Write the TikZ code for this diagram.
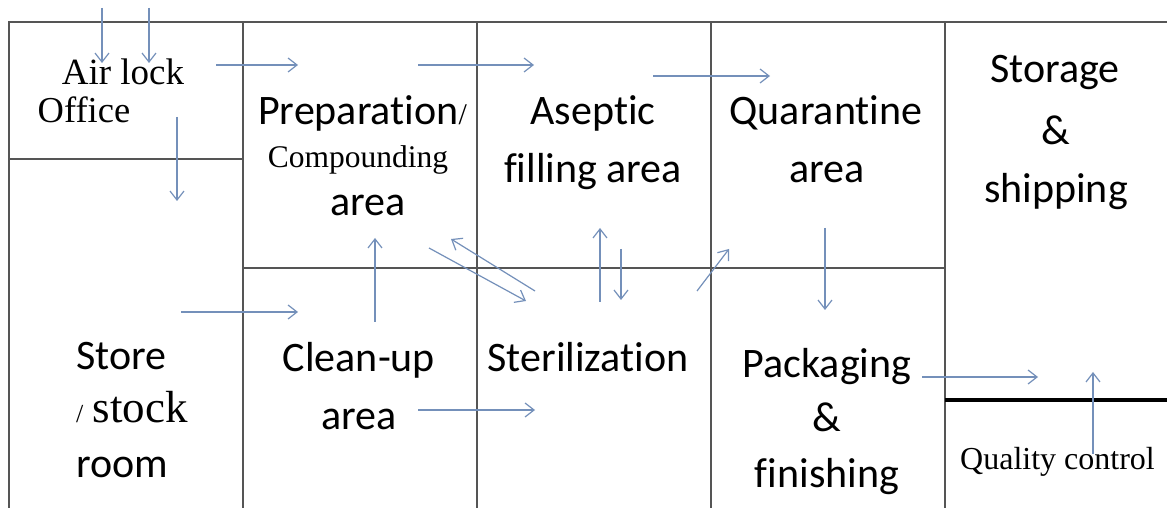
\documentclass[tikz,border=0pt]{standalone}
\usepackage{fontspec}
\setmainfont{Carlito}[Ligatures={NoCommon}]
\newfontfamily\tnr{Liberation Serif}
\usetikzlibrary{arrows.meta}
\definecolor{flow}{HTML}{7490BA}
\definecolor{wall}{HTML}{555555}
\begin{document}
\begin{tikzpicture}[x=1pt,y=1pt,
  wallline/.style={draw=wall,line width=1.8pt},
  thickwall/.style={draw=black,line width=3.4pt},
  flowarrow/.style={draw=flow,line width=1.2pt,-{Straight Barb[length=9pt,width=14pt]}},
  lbl/.style={inner sep=0pt,anchor=base,font=\fontsize{42}{50}\selectfont},
  serif/.style={inner sep=0pt,anchor=base,font=\tnr\fontsize{37}{44}\selectfont}]
\useasboundingbox (0,0) rectangle (1167,508);
\fill[white] (0,0) rectangle (1167,508);
% walls
\draw[wallline] (9,0) -- (9,486) -- (1167,486);
\draw[wallline] (243,0) -- (243,486);
\draw[wallline] (477,0) -- (477,486);
\draw[wallline] (711,0) -- (711,486);
\draw[wallline] (945,0) -- (945,486);
\draw[wallline] (9,349) -- (243,349);
\draw[wallline] (243,240) -- (945,240);
\draw[thickwall] (945,108) -- (1167,108);
% labels
\node[serif] (airlock) at (123,423) {Air lock};
\node[serif,font=\tnr\fontsize{36.5}{44}\selectfont] (office) at (84,385) {Office};
\node[lbl,anchor=base west] (prep1) at (258,383) {Preparation{\tnr\fontsize{30}{30}\selectfont/}};
\node[serif,font=\tnr\fontsize{31.5}{38}\selectfont] (prep2) at (358,340) {Compounding};
\node[lbl] (prep3) at (368,292) {area};
\node[lbl] (asep1) at (593,383) {Aseptic};
\node[lbl] (asep2) at (593,325) {filling area};
\node[lbl] (quar1) at (826,383) {Quarantine};
\node[lbl] (quar2) at (827,325) {area};
\node[lbl] (stor1) at (1055,425) {Storage};
\node[lbl] (stor2) at (1056,363) {\&};
\node[lbl] (stor3) at (1056,305) {shipping};
\node[lbl,anchor=base west] (store1) at (76,138) {Store};
\node[lbl,anchor=base west] (store2) at (76,85) {{\tnr\fontsize{26}{30}\selectfont/} {\tnr\fontsize{45}{50}\selectfont stock}};
\node[lbl,anchor=base west] (store3) at (76,30) {room};
\node[lbl] (clean1) at (359,136) {Clean-up};
\node[lbl] (clean2) at (359,78) {area};
\node[lbl] (steril) at (588,136) {Sterilization};
\node[lbl] (pack1) at (827,130) {Packaging};
\node[lbl] (pack2) at (827,76) {\&};
\node[lbl] (pack3) at (827,20) {finishing};
\node[serif,anchor=base west,font=\tnr\fontsize{32}{40}\selectfont] (qc) at (960,38) {Quality control};
% arrow end points
\coordinate (a1s) at (102,500); \coordinate (a1e) at (102,445);
\coordinate (a2s) at (149,500); \coordinate (a2e) at (149,445);
\coordinate (a3s) at (216,443); \coordinate (a3e) at (298,443);
\coordinate (a4s) at (177,391); \coordinate (a4e) at (177,307);
\coordinate (a5s) at (418,443); \coordinate (a5e) at (534,443);
\coordinate (a6s) at (653,432); \coordinate (a6e) at (770,432);
\coordinate (a7s) at (375,186); \coordinate (a7e) at (375,270);
\coordinate (a8s) at (181,196); \coordinate (a8e) at (298,196);
\coordinate (a9s) at (418,98);  \coordinate (a9e) at (535,98);
\coordinate (a10s) at (429,260); \coordinate (a10e) at (526,207);
\coordinate (a11s) at (535,217); \coordinate (a11e) at (451,269);
\coordinate (a12s) at (600,206); \coordinate (a12e) at (600,280);
\coordinate (a13s) at (621,259); \coordinate (a13e) at (621,208);
\coordinate (a14s) at (697,217); \coordinate (a14e) at (729,259);
\coordinate (a15s) at (825,280); \coordinate (a15e) at (825,198);
\coordinate (a16s) at (922,131); \coordinate (a16e) at (1038,131);
\coordinate (a17s) at (1093,54); \coordinate (a17e) at (1093,136);
% arrows
\foreach \i in {1,...,17} \draw[flowarrow] (a\i s) -- (a\i e);
\end{tikzpicture}
\end{document}
